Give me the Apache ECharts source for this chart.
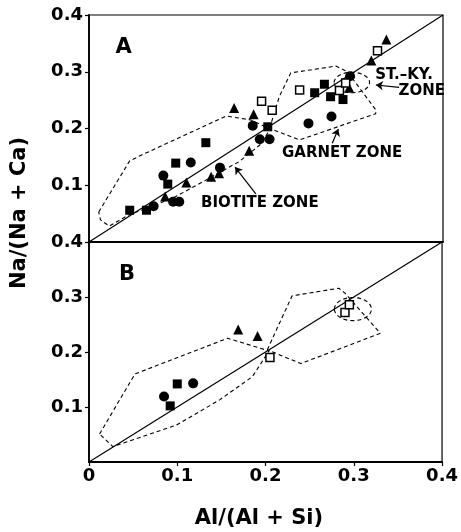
<!DOCTYPE html>
<html>
<head>
<meta charset="utf-8">
<script src="https://cdn.jsdelivr.net/npm/echarts@6/dist/echarts.min.js"></script>
<style>
  html, body { margin: 0; padding: 0; background: #fff; }
  #chart { width: 461px; height: 532px; }
</style>
</head>
<body>
<div id="chart"></div>
<script>
// ---- Panel A: Al/(Al+Si) vs Na/(Na+Ca) ----
const aSolidSquares = [[0.046,0.056],[0.065,0.056],[0.089,0.102],[0.098,0.139],[0.132,0.175],
  [0.202,0.203],[0.255,0.263],[0.266,0.278],[0.273,0.256],[0.287,0.251]];
const aSolidCircles = [[0.073,0.063],[0.095,0.071],[0.102,0.071],[0.084,0.117],[0.115,0.140],
  [0.148,0.131],[0.185,0.205],[0.193,0.181],[0.204,0.181],[0.248,0.209],[0.274,0.221],[0.295,0.292]];
const aSolidTriangles = [[0.086,0.080],[0.110,0.105],[0.138,0.115],[0.147,0.121],[0.181,0.161],
  [0.164,0.236],[0.186,0.225],[0.294,0.272],[0.319,0.320],[0.336,0.357]];
const aOpenSquares = [[0.195,0.248],[0.207,0.232],[0.238,0.268],[0.283,0.267],[0.290,0.280],[0.326,0.337]];

const aBiotiteZone = [[0.011,0.053],[0.046,0.143],[0.059,0.153],[0.155,0.222],[0.183,0.215],
  [0.205,0.199],[0.193,0.171],[0.170,0.142],[0.132,0.109],[0.098,0.080],[0.075,0.065],
  [0.045,0.048],[0.023,0.028],[0.013,0.039],[0.011,0.053]];
const aGarnetZone = [[0.204,0.200],[0.215,0.256],[0.228,0.298],[0.279,0.310],[0.292,0.300],
  [0.324,0.233],[0.324,0.226],[0.238,0.180],[0.204,0.200]];
const aStKyZone = [[0.297,0.281,0.020,0.018]];   // centre x, centre y, radius x, radius y

// ---- Panel B ----
const bSolidSquares = [[0.092,0.102],[0.100,0.142]];
const bSolidCircles = [[0.085,0.119],[0.118,0.143]];
const bSolidTriangles = [[0.169,0.241],[0.191,0.229]];
const bOpenSquares = [[0.205,0.190],[0.290,0.272],[0.295,0.286]];

const bBiotiteZone = [[0.012,0.051],[0.052,0.160],[0.157,0.225],[0.204,0.202],[0.185,0.155],
  [0.148,0.113],[0.099,0.067],[0.027,0.028],[0.012,0.051]];
const bGarnetZone = [[0.202,0.204],[0.230,0.302],[0.283,0.316],[0.290,0.307],[0.330,0.234],
  [0.240,0.179],[0.202,0.204]];
const bStKyZone = [[0.299,0.278,0.021,0.021]];

// 1:1 reference line and axis ticks
const oneToOne = [[0,0],[0.4,0.4]];
const axisTicks = [0, 0.1, 0.2, 0.3, 0.4];

const FONT = '"DejaVu Sans", sans-serif';
const chart = echarts.init(document.getElementById('chart'), null, { renderer: 'canvas' });

function markers(data, symbol, size, open, idx) {
  return {
    type: 'scatter', xAxisIndex: idx, yAxisIndex: idx, data: data,
    symbol: symbol, symbolSize: size, z: 5,
    itemStyle: open ? { color: '#fff', borderColor: '#000', borderWidth: 1.5, opacity: 1 }
                    : { color: '#000', opacity: 1 },
    emphasis: { disabled: true }
  };
}
function zone(data, idx) {
  return {
    type: 'line', xAxisIndex: idx, yAxisIndex: idx, data: data, showSymbol: false, symbol: 'none',
    lineStyle: { color: '#000', width: 1.1, type: [4, 3] }, z: 3, silent: true
  };
}
function ellipseZone(data, idx) {
  return {
    type: 'custom', xAxisIndex: idx, yAxisIndex: idx, data: data, z: 3, silent: true,
    renderItem: function (params, api) {
      const c = api.coord([api.value(0), api.value(1)]);
      const r = api.size([api.value(2), api.value(3)], [api.value(0), api.value(1)]);
      return { type: 'ellipse', shape: { cx: c[0], cy: c[1], rx: r[0], ry: r[1] },
        style: { fill: 'none', stroke: '#000', lineWidth: 1.1, lineDash: [4, 3] } };
    }
  };
}
function notes(points, texts, font, idx) {
  return {
    type: 'custom', xAxisIndex: idx, yAxisIndex: idx, data: points, z: 6, silent: true,
    renderItem: function (params, api) {
      const p = api.coord([api.value(0), api.value(1)]);
      return { type: 'text', x: p[0], y: p[1],
        style: { text: texts[params.dataIndex], font: font, fill: '#000', align: 'center', verticalAlign: 'middle' } };
    }
  };
}
function arrows(segs, idx) {
  return {
    type: 'lines', coordinateSystem: 'cartesian2d', xAxisIndex: idx, yAxisIndex: idx,
    data: segs.map(s => ({ coords: s })), symbol: ['none', 'arrow'], symbolSize: [0, 7],
    lineStyle: { color: '#000', width: 1.2, opacity: 1 }, z: 4, silent: true
  };
}
function diag(idx) {
  return {
    type: 'line', xAxisIndex: idx, yAxisIndex: idx, data: oneToOne, symbol: 'none',
    lineStyle: { color: '#000', width: 1.2 }, z: 2, silent: true
  };
}

const labelStyle = { fontFamily: FONT, fontWeight: 'bold', fontSize: 18, color: '#000' };
function xAxis(idx, showLabels) {
  return {
    gridIndex: idx, type: 'value', min: 0, max: 0.4, interval: 0.1,
    axisLine: { show: true, onZero: false, lineStyle: { color: '#000', width: 1.8 } },
    axisTick: { show: showLabels, length: 4, lineStyle: { color: '#000', width: 1.2 } },
    axisLabel: Object.assign({ show: showLabels, margin: 5 }, labelStyle),
    splitLine: { show: false }
  };
}
function yAxis(idx) {
  return {
    gridIndex: idx, type: 'value', min: 0, max: 0.4, interval: 0.1,
    axisLine: { show: true, onZero: false, lineStyle: { color: '#000', width: 1.8 } },
    axisTick: { show: true, length: 4, lineStyle: { color: '#000', width: 1.2 } },
    axisLabel: Object.assign({ showMinLabel: false, margin: 6 }, labelStyle),
    splitLine: { show: false }
  };
}

const noteFont = 'bold 15px ' + FONT;
const letterFont = 'bold 21px ' + FONT;

chart.setOption({
  animation: false,
  backgroundColor: '#fff',
  grid: [
    { left: 89, top: 15, width: 354, height: 227, show: true, borderColor: '#000', borderWidth: 1.2 },
    { left: 89, top: 242, width: 354, height: 220, show: true, borderColor: '#000', borderWidth: 1.2 }
  ],
  xAxis: [xAxis(0, false), xAxis(1, true)],
  yAxis: [yAxis(0), yAxis(1)],
  graphic: [
    { type: 'text', x: 20, y: 213, rotation: Math.PI / 2,
      style: { text: 'Na/(Na + Ca)', font: 'bold 21px ' + FONT, fill: '#000', align: 'center', verticalAlign: 'middle' } },
    { type: 'text', x: 259, y: 519,
      style: { text: 'Al/(Al + Si)', font: 'bold 21px ' + FONT, fill: '#000', align: 'center', verticalAlign: 'middle' } }
  ],
  series: [
    diag(0),
    zone(aBiotiteZone, 0), zone(aGarnetZone, 0), ellipseZone(aStKyZone, 0),
    markers(aSolidSquares, 'rect', 9, false, 0),
    markers(aSolidCircles, 'circle', 10, false, 0),
    markers(aSolidTriangles, 'triangle', 10, false, 0),
    markers(aOpenSquares, 'rect', 8, true, 0),
    arrows([
      [[0.3504, 0.2726], [0.3242, 0.2767]],
      [[0.2749, 0.1739], [0.2817, 0.1991]],
      [[0.1885, 0.0850], [0.1650, 0.1320]]
    ], 0),
    notes([[0.356, 0.294], [0.376, 0.266], [0.286, 0.157], [0.193, 0.068]],
      ['ST.–KY.', 'ZONE', 'GARNET ZONE', 'BIOTITE ZONE'], noteFont, 0),
    notes([[0.039, 0.343]], ['A'], letterFont, 0),

    diag(1),
    zone(bBiotiteZone, 1), zone(bGarnetZone, 1), ellipseZone(bStKyZone, 1),
    markers(bSolidSquares, 'rect', 9, false, 1),
    markers(bSolidCircles, 'circle', 10, false, 1),
    markers(bSolidTriangles, 'triangle', 10, false, 1),
    markers(bOpenSquares, 'rect', 8, true, 1),
    notes([[0.043, 0.340]], ['B'], letterFont, 1)
  ]
});
</script>
</body>
</html>
